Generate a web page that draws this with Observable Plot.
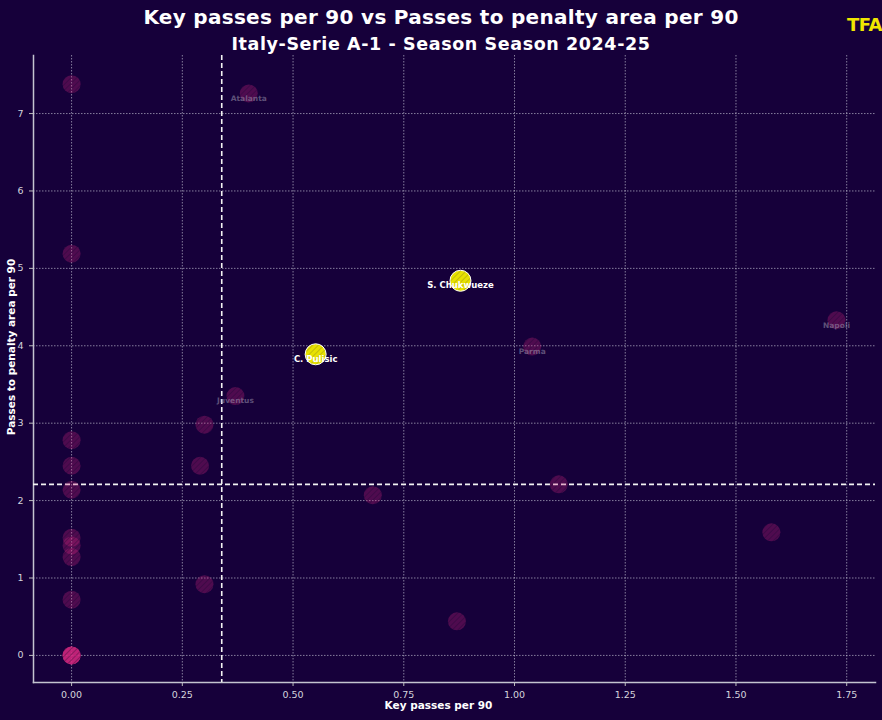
<!DOCTYPE html>
<html>
<head>
<meta charset="utf-8">
<script src="https://cdn.jsdelivr.net/npm/d3@7"></script>
<script src="https://cdn.jsdelivr.net/npm/@observablehq/plot@0.6"></script>
<style>
  html, body { margin: 0; padding: 0; background: #16003a; }
  #wrap { position: relative; width: 882px; height: 720px; overflow: hidden; background: #16003a; }
  .title { position: absolute; left: 0; width: 882px; text-align: center; color: #fff; font-family: "DejaVu Sans", sans-serif; font-weight: bold; white-space: nowrap; }
  #t1 { top: 5px; font-size: 20px; letter-spacing: 0.3px; }
  #t2 { top: 34px; font-size: 17.5px; letter-spacing: 0.6px; }
  #logo { position: absolute; right: 0px; top: 14px; color: #f0e600; font-family: "DejaVu Sans", sans-serif; font-weight: bold; font-size: 18px; letter-spacing: -0.5px; }
</style>
</head>
<body>
<svg width="0" height="0" style="position:absolute">
  <defs>
    <pattern id="hatchPink" width="4" height="4" patternUnits="userSpaceOnUse" patternTransform="rotate(45)">
      <rect width="4" height="4" fill="#d4267f"></rect>
      <line x1="0" y1="0" x2="0" y2="4" stroke="#8a1a5c" stroke-width="1.6"></line>
    </pattern>
    <pattern id="hatchYellow" width="4" height="4" patternUnits="userSpaceOnUse" patternTransform="rotate(45)">
      <rect width="4" height="4" fill="#e8e200"></rect>
      <line x1="0" y1="0" x2="0" y2="4" stroke="#b4ac10" stroke-width="1.4"></line>
    </pattern>
  </defs>
</svg>
<div id="wrap">
  <div class="title" id="t1">Key passes per 90 vs Passes to penalty area per 90</div>
  <div class="title" id="t2">Italy-Serie A-1 - Season Season 2024-25</div>
  <div id="logo">TFA</div>
</div>
<script>
// Unlabelled players (key passes per 90, passes to penalty area per 90)
const otherKP = [0, 0, 0.30, 0, 0.29, 0, 0, 1.10, 0.68, 1.58, 0, 0, 0, 0.30, 0, 0.87, 0, 0, 0, 0, 0, 0];
const otherPA = [7.38, 5.19, 2.98, 2.78, 2.45, 2.45, 2.14, 2.21, 2.07, 1.59, 1.52, 1.42, 1.27, 0.92, 0.72, 0.44, 0, 0, 0, 0, 0, 0];

// Faded points with team labels
const teamNames = ["Atalanta", "Napoli", "Parma", "Juventus"];
const teamKP = [0.40, 1.727, 1.04, 0.37];
const teamPA = [7.26, 4.33, 3.99, 3.35];

// Highlighted players
const playerNames = ["S. Chukwueze", "C. Pulisic"];
const playerKP = [0.878, 0.551];
const playerPA = [4.84, 3.89];

// Averages
const meanKP = [0.339];
const meanPA = [2.21];

const xTicks = [0, 0.25, 0.5, 0.75, 1.0, 1.25, 1.5, 1.75];
const yTicks = [0, 1, 2, 3, 4, 5, 6, 7];

const others = otherKP.map((x, i) => ({x, y: otherPA[i]}));
const teams = teamNames.map((n, i) => ({name: n, x: teamKP[i], y: teamPA[i]}));
const players = playerNames.map((n, i) => ({name: n, x: playerKP[i], y: playerPA[i]}));

const chart = Plot.plot({
  width: 882,
  height: 720,
  marginLeft: 33,
  marginRight: 7,
  marginTop: 55,
  marginBottom: 38,
  style: {background: "transparent", color: "#cfcfd8", fontFamily: "DejaVu Sans, sans-serif", fontSize: "9px"},
  x: {domain: [-0.086, 1.815]},
  y: {domain: [-0.35, 7.75]},
  marks: [
    Plot.gridX(xTicks, {stroke: "#d0d0e0", strokeOpacity: 0.6, strokeDasharray: "1.5,1.5", strokeWidth: 1}),
    Plot.gridY(yTicks, {stroke: "#d0d0e0", strokeOpacity: 0.6, strokeDasharray: "1.5,1.5", strokeWidth: 1}),
    Plot.axisX(xTicks, {tickFormat: d3.format(".2f"), tickSize: 4, stroke: "#bbb", fill: "#d4d4dc", fontSize: 9.5, label: null, tickPadding: 5}),
    Plot.axisY(yTicks, {tickFormat: d3.format("d"), tickSize: 4, stroke: "#bbb", fill: "#d4d4dc", fontSize: 9.5, label: null, tickPadding: 6}),
    Plot.frame({anchor: "left", stroke: "#c4c4d0", strokeWidth: 1.5}),
    Plot.frame({anchor: "bottom", stroke: "#c4c4d0", strokeWidth: 1.5}),
    Plot.ruleX(meanKP, {stroke: "#f2f2f2", strokeWidth: 1.6, strokeDasharray: "5,3"}),
    Plot.ruleY(meanPA, {stroke: "#f2f2f2", strokeWidth: 1.6, strokeDasharray: "5,3"}),
    Plot.dot(others, {x: "x", y: "y", r: 9, fill: "url(#hatchPink)", fillOpacity: 0.3, stroke: "none"}),
    Plot.dot(teams, {x: "x", y: "y", r: 9, fill: "url(#hatchPink)", fillOpacity: 0.3, stroke: "none"}),
    Plot.text(teams, {x: "x", y: "y", text: "name", dy: 5, fill: "#a6a0b8", fillOpacity: 0.5, fontWeight: "bold", fontSize: 7.5, fontFamily: "DejaVu Sans, sans-serif"}),
    Plot.dot(players, {x: "x", y: "y", r: 10.5, fill: "url(#hatchYellow)", stroke: "#ffffff", strokeWidth: 1}),
    Plot.text(players, {x: "x", y: "y", text: "name", dy: 5, fill: "#ffffff", fontWeight: "bold", fontSize: 8.5, fontFamily: "DejaVu Sans, sans-serif"}),
    Plot.text(["Key passes per 90"], {frameAnchor: "bottom", dy: 26, dx: -16, fill: "#ffffff", fontWeight: "bold", fontSize: 10.5, fontFamily: "DejaVu Sans, sans-serif"}),
    Plot.text(["Passes to penalty area per 90"], {frameAnchor: "left", textAnchor: "middle", dx: -22, dy: -22, rotate: -90, fill: "#ffffff", fontWeight: "bold", fontSize: 10.5, fontFamily: "DejaVu Sans, sans-serif"})
  ]
});
chart.style.position = "absolute";
chart.style.left = "0";
chart.style.top = "0";
document.getElementById("wrap").appendChild(chart);
</script>
</body>
</html>
